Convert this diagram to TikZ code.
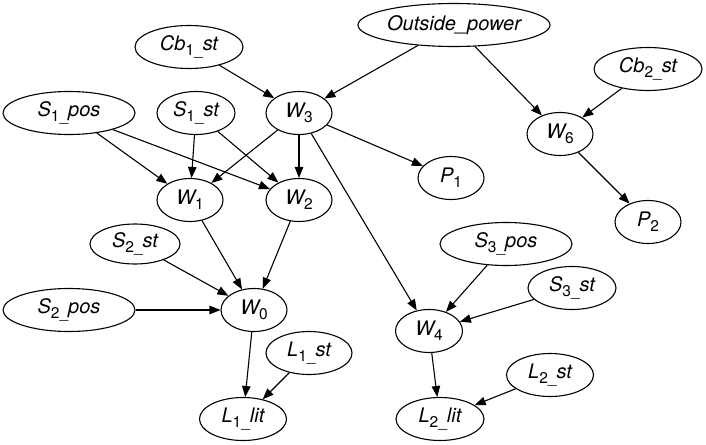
\documentclass[tikz,border=0pt]{standalone}
\usepackage{fontspec}
\setmainfont{TeX Gyre Heros}
\usetikzlibrary{shapes.geometric,arrows.meta}
\newcommand\lbsub[1]{\raisebox{-5pt}{\fontsize{15.5}{15.5}\selectfont\upshape #1}}
\tikzset{
  nd/.style={ellipse,draw,line width=1.1pt,inner sep=0pt,minimum height=43pt,
    font=\fontsize{20}{20}\selectfont\itshape},
  edge/.style={line width=1.1pt,-{Triangle[length=11pt,width=8.5pt]}},
}
\begin{document}
\begin{tikzpicture}[x=1pt,y=-1pt]
\useasboundingbox (0,0) rectangle (706,444);
\node[nd,minimum width=108pt] (cb1) at (189,47) {Cb\lbsub{1\_}st};
\node[nd,minimum width=192pt] (op) at (454,25) {Outside\_power};
\node[nd,minimum width=108pt] (cb2) at (648,69) {Cb\lbsub{2\_}st};
\node[nd,minimum width=132pt] (s1p) at (69,113) {S\lbsub{1\_}pos};
\node[nd,minimum width=78pt] (s1s) at (196,113) {S\lbsub{1\_}st};
\node[nd,minimum width=66pt] (w3) at (299,113) {W\lbsub{3}};
\node[nd,minimum width=66pt] (w6) at (560,134) {W\lbsub{6}};
\node[nd,minimum width=66pt] (w1) at (190,200) {W\lbsub{1}};
\node[nd,minimum width=66pt] (w2) at (299,200) {W\lbsub{2}};
\node[nd,minimum width=66pt] (p1) at (451,178) {P\lbsub{1}};
\node[nd,minimum width=66pt] (p2) at (648,222) {P\lbsub{2}};
\node[nd,minimum width=90pt,minimum height=40pt] (s2s) at (135,244) {S\lbsub{2\_}st};
\node[nd,minimum width=132pt] (s2p) at (69,310) {S\lbsub{2\_}pos};
\node[nd,minimum width=66pt] (w0) at (254,310) {W\lbsub{0}};
\node[nd,minimum width=132pt] (s3p) at (506,244) {S\lbsub{3\_}pos};
\node[nd,minimum width=88pt] (s3s) at (572,288) {S\lbsub{3\_}st};
\node[nd,minimum width=67pt] (w4) at (429,331) {W\lbsub{4}};
\node[nd,minimum width=86pt] (l1s) at (309,353) {L\lbsub{1\_}st};
\node[nd,minimum width=87pt] (l1l) at (243,419) {L\lbsub{1\_}lit};
\node[nd,minimum width=87pt] (l2s) at (550,375) {L\lbsub{2\_}st};
\node[nd,minimum width=88pt] (l2l) at (440,419) {L\lbsub{2\_}lit};
\draw[edge] (cb1) -- (w3);
\draw[edge] (op) -- (w3);
\draw[edge] (op) -- (w6);
\draw[edge] (cb2) -- (w6);
\draw[edge] (w6) -- (p2);
\draw[edge] (s1p) -- (w1);
\draw[edge] (s1p) -- (w2);
\draw[edge] (s1s) -- (w1);
\draw[edge] (s1s) -- (w2);
\draw[edge] (w3) -- (w1);
\draw[edge] (w3) -- (w2);
\draw[edge] (w3) -- (p1);
\draw[edge] (w3) -- (w4);
\draw[edge] (w1) -- (w0);
\draw[edge] (w2) -- (w0);
\draw[edge] (s2s) -- (w0);
\draw[edge] (s2p) -- (w0);
\draw[edge] (w0) -- (l1l);
\draw[edge] (l1s) -- (l1l);
\draw[edge] (s3p) -- (w4);
\draw[edge] (s3s) -- (w4);
\draw[edge] (w4) -- (l2l);
\draw[edge] (l2s) -- (l2l);
\end{tikzpicture}
\end{document}
